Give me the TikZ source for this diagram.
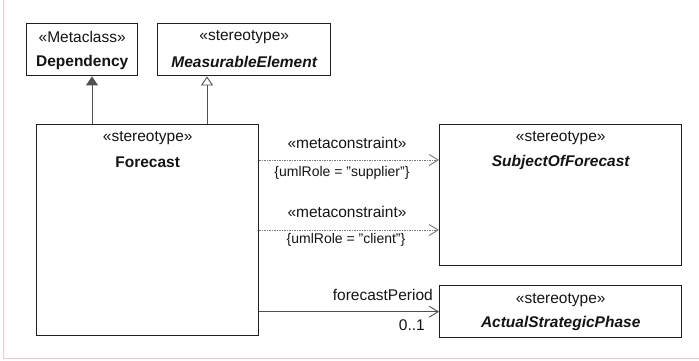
\documentclass[tikz,border=0pt]{standalone}
\usepackage{fontspec}
\setmainfont{Liberation Sans}
\usetikzlibrary{arrows.meta,calc}
\definecolor{boxc}{RGB}{30,30,30}
\definecolor{linec}{RGB}{80,80,80}
\definecolor{dashc}{RGB}{120,120,120}
\definecolor{txt}{RGB}{20,20,20}
\definecolor{framec}{RGB}{238,200,205}
\begin{document}
\begin{tikzpicture}[x=1pt,y=-1pt,
  umlbox/.style={draw=boxc, line width=1.4pt, fill=white, anchor=north west, inner sep=0pt},
  lbl/.style={font=\fontsize{15.5}{18}\selectfont, text=txt, inner sep=0pt},
  rolelbl/.style={font=\fontsize{14}{17}\selectfont, text=txt, inner sep=0pt},
  namelbl/.style={font=\fontsize{15.5}{18}\selectfont\bfseries, text=txt, inner sep=0pt},
  inamelbl/.style={font=\fontsize{15.5}{18}\selectfont\bfseries\itshape, text=txt, inner sep=0pt},
  conn/.style={draw=linec, line width=0.9pt},
  dashconn/.style={draw=dashc, line width=0.7pt, dash pattern=on 1.5pt off 1pt},
  openhead/.style={-{Straight Barb[length=9pt,width=11pt,line width=0.9pt]}}
]
\useasboundingbox (0,0) rectangle (699,360);
\draw[framec, line width=0.8pt] (3,0) -- (3,358) -- (699,358);

% boxes
\node[umlbox, minimum width=111pt, minimum height=52pt] (dep) at (26,23) {};
\node[umlbox, minimum width=173pt, minimum height=52pt] (meas) at (157,23) {};
\node[umlbox, minimum width=222pt, minimum height=211pt] (fc) at (36,124) {};
\node[umlbox, minimum width=242pt, minimum height=141pt] (subj) at (439,124) {};
\node[umlbox, minimum width=242pt, minimum height=52pt] (act) at (439,285) {};

% box texts
\node[lbl] (depS) at ($(dep.north)+(0,14)$) {«Metaclass»};
\node[namelbl] (depN) at ($(dep.north)+(0,39)$) {Dependency};
\node[lbl] (measS) at ($(meas.north)+(0,14)$) {«stereotype»};
\node[inamelbl] (measN) at ($(meas.north)+(0,39)$) {MeasurableElement};
\node[lbl] (fcS) at ($(fc.north)+(0,14)$) {«stereotype»};
\node[namelbl] (fcN) at ($(fc.north)+(0,38)$) {Forecast};
\node[lbl] (subjS) at ($(subj.north)+(0,14)$) {«stereotype»};
\node[inamelbl] (subjN) at ($(subj.north)+(0,38)$) {SubjectOfForecast};
\node[lbl] (actS) at ($(act.north)+(0,15)$) {«stereotype»};
\node[inamelbl] (actN) at ($(act.north)+(0,38)$) {ActualStrategicPhase};

% generalizations
\draw[conn, -{Triangle[length=9pt,width=12pt]}, linec] ($(fc.north west)+(56,0)$) -- ($(dep.south west)+(66,0)$);
\draw[conn, -{Triangle[open,length=9pt,width=12pt,fill=white]}] ($(fc.north west)+(171,0)$) -- ($(meas.south west)+(50,0)$);

% metaconstraints
\draw[dashconn, openhead] ($(fc.north east)+(0,36)$) -- ($(subj.north west)+(0,36)$);
\draw[dashconn, openhead] ($(fc.north east)+(0,106)$) -- ($(subj.north west)+(0,106)$);
\node[lbl] (mc1) at (347,143) {«metaconstraint»};
\node[rolelbl] (r1) at (342,173) {\{umlRole = "supplier"\}};
\node[lbl] (mc2) at (347,212) {«metaconstraint»};
\node[rolelbl] (r2) at (346,240) {\{umlRole = "client"\}};

% association
\draw[conn, openhead] (fc.east |- act.west) -- (act.west);
\node[lbl, anchor=east] (fp) at (433,295) {forecastPeriod};
\node[lbl, anchor=east] (mult) at (425,325) {0..1};
\end{tikzpicture}
\end{document}
